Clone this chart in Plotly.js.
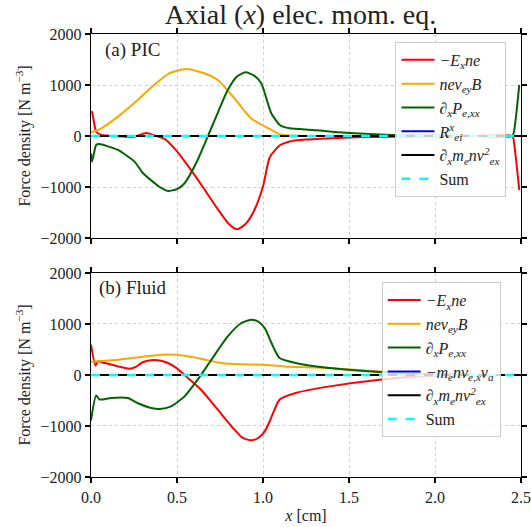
<!DOCTYPE html>
<html>
<head>
<meta charset="utf-8">
<script src="https://cdn.plot.ly/plotly-3.0.1.min.js"></script>
<style>html,body{margin:0;padding:0;background:#fff;}#plot{width:531px;height:527px;}</style>
</head>
<body>
<div id="plot"></div>
<script>
// ---------- Panel (a) PIC ----------
const picEx_x = [0, 0.005, 0.03, 0.06, 0.15, 0.25, 0.32, 0.38, 0.43, 0.5, 0.58, 0.66, 0.74, 0.80, 0.85, 0.90, 0.95, 1.0, 1.04, 1.10, 1.15, 1.25, 1.39, 1.55, 1.75, 2.0, 2.2, 2.45, 2.46, 2.49];
const picEx   = [470, 476, 84, 20, -5, -15, 60, 0, -60, -300, -660, -1050, -1450, -1720, -1830, -1720, -1450, -990, -410, -176, -111, -70, -46, -25, -13, -5, -2, 0, -150, -1060];

const picB_x = [0, 0.06, 0.156, 0.25, 0.35, 0.45, 0.553, 0.65, 0.737, 0.834, 0.93, 1.05, 1.10, 1.2, 1.5, 2.0, 2.5];
const picB   = [70, 150, 380, 640, 950, 1220, 1313, 1240, 1098, 739, 347, 118, 30, 5, 0, 0, 0];

const picP_x = [0, 0.006, 0.03, 0.047, 0.156, 0.253, 0.30, 0.35, 0.40, 0.447, 0.50, 0.544, 0.61, 0.68, 0.74, 0.795, 0.85, 0.898, 0.95, 0.99, 1.048, 1.1, 1.154, 1.29, 1.48, 1.75, 2.0, 2.2, 2.45, 2.46, 2.49];
const picP   = [-340, -503, -176, -157, -274, -503, -720, -870, -1000, -1078, -1040, -927, -540, 0, 480, 901, 1170, 1248, 1180, 1033, 445, 210, 150, 118, 65, 20, 8, 3, 0, 100, 1000];

const picR_x = [0, 2.5];
const picR   = [0, 0];
const picK_x = [0, 2.5];
const picK   = [0, 0];
const picS_x = [0, 2.46, 2.49, 2.5];
const picS   = [0, 0, -110, -110];

// ---------- Panel (b) Fluid ----------
const fluEx_x = [0, 0.026, 0.04, 0.08, 0.156, 0.224, 0.26, 0.3, 0.35, 0.4, 0.447, 0.5, 0.544, 0.64, 0.737, 0.834, 0.88, 0.93, 0.97, 1.01, 1.04, 1.067, 1.096, 1.19, 1.387, 1.677, 1.97, 2.2, 2.5];
const fluEx   = [594, 182, 267, 235, 169, 124, 160, 250, 290, 285, 235, 130, 0, -288, -680, -1072, -1230, -1281, -1240, -1105, -900, -680, -484, -353, -223, -92, -14, 0, 0];

const fluB_x = [0, 0.156, 0.35, 0.447, 0.544, 0.64, 0.737, 0.834, 1.0, 1.125, 1.387, 1.677, 2.0, 2.5];
const fluB   = [260, 300, 378, 400, 378, 320, 247, 215, 202, 169, 137, 71, 20, 0];

const fluP_x = [0, 0.03, 0.05, 0.117, 0.214, 0.27, 0.35, 0.40, 0.466, 0.544, 0.62, 0.70, 0.795, 0.87, 0.93, 0.97, 1.01, 1.04, 1.067, 1.096, 1.19, 1.387, 1.677, 2.0, 2.3, 2.5];
const fluP   = [-890, -400, -480, -451, -451, -549, -647, -666, -615, -419, -92, 300, 757, 1010, 1084, 1050, 921, 700, 496, 333, 235, 137, 59, 15, 0, 0];

const fluA_x = [0, 2.5];
const fluA   = [0, 0];
const fluK_x = [0, 2.5];
const fluK   = [0, 0];
const fluS_x = [0, 2.5];
const fluS   = [0, 0];

const yTicks = [-2000, -1000, 0, 1000, 2000];
const xTicks = [0, 0.5, 1.0, 1.5, 2.0, 2.5];

const namesA = ['<i>−E<sub>x</sub>ne</i>', '<i>nev<sub>ey</sub>B</i>', '∂<sub><i>x</i></sub><i>P<sub>e,xx</sub></i>', '<i>R<sup>x</sup><sub>ei</sub></i>', '∂<sub><i>x</i></sub><i>m<sub>e</sub>nv<sup>2</sup><sub>ex</sub></i>', 'Sum'];
const namesB = ['<i>−E<sub>x</sub>ne</i>', '<i>nev<sub>ey</sub>B</i>', '∂<sub><i>x</i></sub><i>P<sub>e,xx</sub></i>', '<i>−m<sub>e</sub>nv<sub>e,x</sub>ν<sub>a</sub></i>', '∂<sub><i>x</i></sub><i>m<sub>e</sub>nv<sup>2</sup><sub>ex</sub></i>', 'Sum'];

const colors = ['#ff0000', '#ffa500', '#006400', '#0000ff', '#000000', '#00ffff'];

function mk(x, y, i, names, xa, ya, leg, dash) {
  return {
    x: x, y: y, type: 'scatter', mode: 'lines', name: names[i],
    xaxis: xa, yaxis: ya, legend: leg,
    line: {color: colors[i], width: (i === 5 ? 2.5 : 2), dash: dash || 'solid', shape: (x.length > 4 ? 'spline' : 'linear'), smoothing: 0.6}
  };
}

const data = [
  mk(picEx_x, picEx, 0, namesA, 'x', 'y', 'legend'),
  mk(picB_x, picB, 1, namesA, 'x', 'y', 'legend'),
  mk(picP_x, picP, 2, namesA, 'x', 'y', 'legend'),
  mk(picR_x, picR, 3, namesA, 'x', 'y', 'legend'),
  mk(picK_x, picK, 4, namesA, 'x', 'y', 'legend'),
  mk(picS_x, picS, 5, namesA, 'x', 'y', 'legend', 'dash'),
  mk(fluEx_x, fluEx, 0, namesB, 'x2', 'y2', 'legend2'),
  mk(fluB_x, fluB, 1, namesB, 'x2', 'y2', 'legend2'),
  mk(fluP_x, fluP, 2, namesB, 'x2', 'y2', 'legend2'),
  mk(fluA_x, fluA, 3, namesB, 'x2', 'y2', 'legend2'),
  mk(fluK_x, fluK, 4, namesB, 'x2', 'y2', 'legend2'),
  mk(fluS_x, fluS, 5, namesB, 'x2', 'y2', 'legend2', 'dash')
];

const serif = 'Liberation Serif, DejaVu Serif, serif';

function xax(showLabels, anchor) {
  return {
    range: [0, 2.5], tickvals: xTicks, ticktext: xTicks.map(v => v.toFixed(1)),
    showticklabels: showLabels, anchor: anchor,
    showgrid: true, gridcolor: '#d0d0d0', griddash: 'dot', gridwidth: 1,
    zeroline: false, showline: true, linecolor: '#000', linewidth: 1.3, mirror: 'ticks',
    ticks: 'outside', ticklen: 5, tickcolor: '#000', tickwidth: 1.1,
    tickfont: {family: serif, size: 16, color: '#222'}
  };
}
function yax(domain, anchor) {
  return {
    domain: domain, range: [-2000, 2000], tickvals: yTicks, anchor: anchor,
    showgrid: true, gridcolor: '#d0d0d0', griddash: 'dot', gridwidth: 1,
    zeroline: false, showline: true, linecolor: '#000', linewidth: 1.3, mirror: 'ticks',
    ticks: 'outside', ticklen: 5, tickcolor: '#000', tickwidth: 1.1,
    tickfont: {family: serif, size: 16, color: '#222'},
    title: {text: 'Force density [N m<sup>−3</sup>]', font: {family: serif, size: 16, color: '#222'}, standoff: 6}
  };
}

const layout = {
  width: 531, height: 527,
  margin: {l: 91, r: 10, t: 34, b: 50},
  paper_bgcolor: '#fff', plot_bgcolor: '#fff',
  showlegend: true,
  title: {text: 'Axial (<i>x</i>) elec. mom. eq.', font: {family: serif, size: 28, color: '#222'}, x: 0.566, xanchor: 'center', y: 0.974, yanchor: 'middle'},
  xaxis: Object.assign(xax(false, 'y'), {domain: [0, 1], matches: 'x2'}),
  yaxis: yax([0.5395, 1], 'x'),
  xaxis2: Object.assign(xax(true, 'y2'), {domain: [0, 1], title: {text: '<i>x</i> [cm]', font: {family: serif, size: 16, color: '#222'}, standoff: 5}}),
  yaxis2: yax([0, 0.4605], 'x2'),
  legend: {x: 0.708, y: 0.982, xanchor: 'left', yanchor: 'top', bgcolor: 'rgba(255,255,255,0.8)', bordercolor: '#cccccc', borderwidth: 1, font: {family: serif, size: 16, color: '#222'}, itemwidth: 33, tracegroupgap: 0},
  legend2: {x: 0.676, y: 0.440, xanchor: 'left', yanchor: 'top', bgcolor: 'rgba(255,255,255,0.8)', bordercolor: '#cccccc', borderwidth: 1, font: {family: serif, size: 16, color: '#222'}, itemwidth: 33, tracegroupgap: 0},
  annotations: [
    {text: '(a) PIC', xref: 'paper', yref: 'paper', x: 0.027, y: 0.964, xanchor: 'left', yanchor: 'middle', showarrow: false, font: {family: serif, size: 19, color: '#222'}},
    {text: '(b) Fluid', xref: 'paper', yref: 'paper', x: 0.015, y: 0.4266, xanchor: 'left', yanchor: 'middle', showarrow: false, font: {family: serif, size: 19, color: '#222'}}
  ]
};

Plotly.newPlot('plot', data, layout, {staticPlot: true, displayModeBar: false});
</script>
</body>
</html>
